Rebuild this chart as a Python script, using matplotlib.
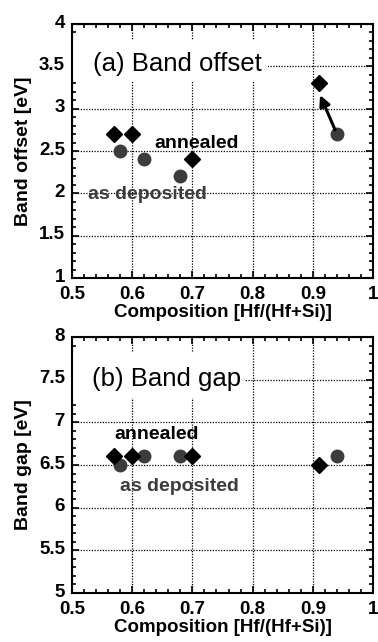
import matplotlib
matplotlib.use('Agg')
import matplotlib.pyplot as plt
from matplotlib.ticker import MultipleLocator, FuncFormatter
from matplotlib.patches import Rectangle
from matplotlib.transforms import ScaledTranslation

# Data
comp_annealed = [0.57, 0.60, 0.70, 0.91]
comp_deposited = [0.58, 0.62, 0.68, 0.94]
offset_annealed = [2.7, 2.7, 2.4, 3.3]
offset_deposited = [2.5, 2.4, 2.2, 2.7]
gap_annealed = [6.6, 6.6, 6.6, 6.5]
gap_deposited = [6.5, 6.6, 6.6, 6.6]

plt.rcParams['font.family'] = ['Liberation Sans', 'DejaVu Sans']

fig = plt.figure(figsize=(3.78, 6.42), dpi=100)
W, H = 378, 642
ax1 = fig.add_axes([72 / W, 1 - 278 / H, 301 / W, 254 / H])
ax2 = fig.add_axes([72 / W, 1 - 593 / H, 301 / W, 256 / H])

dep_color = '#3c3c3c'
fmt = FuncFormatter(lambda v, p: f'{v:g}')
nudge_up = ScaledTranslation(0, 2 / 72, fig.dpi_scale_trans)


def setup(ax, ylo, yhi, ylabel):
    ax.set_xlim(0.5, 1.0)
    ax.set_ylim(ylo, yhi)
    ax.xaxis.set_major_locator(MultipleLocator(0.1))
    ax.xaxis.set_minor_locator(MultipleLocator(0.02))
    ax.yaxis.set_major_locator(MultipleLocator(0.5))
    ax.yaxis.set_minor_locator(MultipleLocator(0.1))
    ax.xaxis.set_major_formatter(fmt)
    ax.yaxis.set_major_formatter(fmt)
    ax.tick_params(which='both', direction='in', top=True, right=True, width=1.2)
    ax.tick_params(which='major', length=5, labelsize=13.5)
    ax.tick_params(axis='x', which='major', pad=5.5)
    ax.tick_params(axis='y', which='major', pad=5)
    ax.tick_params(which='minor', length=3)
    for lab in ax.get_xticklabels():
        lab.set_fontweight('bold')
    for lab in ax.get_yticklabels():
        lab.set_fontweight('bold')
        # y labels sit a little above their ticks in the original
        lab.set_transform(lab.get_transform() + nudge_up)
    ax.grid(True, which='major', color='black', linestyle=(0, (1, 1.2)), linewidth=0.9)
    ax.set_axisbelow(True)
    for sp in ax.spines.values():
        sp.set_linewidth(1.5)
    ax.set_xlabel('Composition [Hf/(Hf+Si)]', fontweight='bold', fontsize=13.5, labelpad=1)
    ax.set_ylabel(ylabel, fontweight='bold', fontsize=14, labelpad=5)


# (a) Band offset
setup(ax1, 1, 4, 'Band offset [eV]')
ax1.add_patch(Rectangle((0.0, 0.77), 0.651, 0.167, transform=ax1.transAxes,
                        facecolor='white', edgecolor='none', zorder=1.5))
ax1.text(0.535, 3.45, '(a) Band offset', fontsize=18.5, zorder=2)
ax1.plot(comp_deposited, offset_deposited, 'o', color=dep_color, markersize=9,
         linestyle='none', zorder=3)
ax1.plot(comp_annealed, offset_annealed, 'D', color='black', markersize=7.8,
         linestyle='none', zorder=4)
ax1.annotate('', xy=(comp_annealed[3] + 0.002, offset_annealed[3] - 0.14),
             xytext=(comp_deposited[3] - 0.003, offset_deposited[3] + 0.05),
             arrowprops=dict(arrowstyle='-|>', color='black', lw=2.2,
                             mutation_scale=16, shrinkA=0, shrinkB=0), zorder=5)
ax1.text(0.637, 2.53, 'annealed', fontweight='bold', fontsize=14,
         color='black', zorder=2)
ax1.text(0.527, 1.93, 'as deposited', fontweight='bold', fontsize=14,
         color=dep_color, zorder=2)

# (b) Band gap
setup(ax2, 5, 8, 'Band gap [eV]')
ax2.add_patch(Rectangle((0.0, 0.762), 0.574, 0.175, transform=ax2.transAxes,
                        facecolor='white', edgecolor='none', zorder=1.5))
ax2.text(0.533, 7.42, '(b) Band gap', fontsize=18.5, zorder=2)
ax2.plot(comp_deposited, gap_deposited, 'o', color=dep_color, markersize=9,
         linestyle='none', zorder=3)
ax2.plot(comp_annealed, gap_annealed, 'D', color='black', markersize=7.8,
         linestyle='none', zorder=4)
ax2.text(0.571, 6.80, 'annealed', fontweight='bold', fontsize=14,
         color='black', zorder=2)
ax2.text(0.580, 6.20, 'as deposited', fontweight='bold', fontsize=14,
         color=dep_color, zorder=2)

fig.savefig('out.png', dpi=100)
